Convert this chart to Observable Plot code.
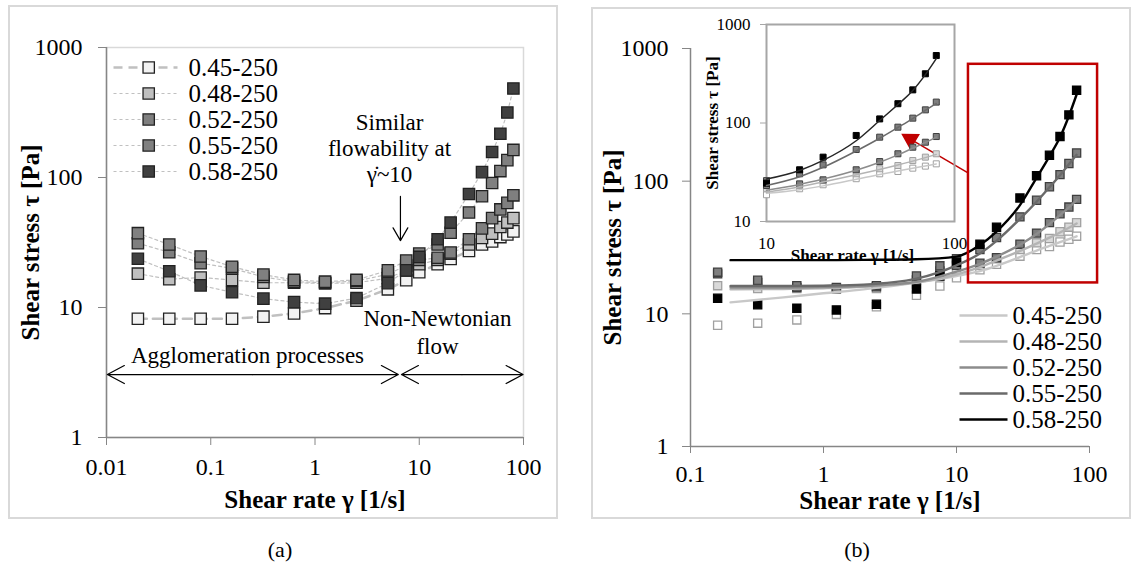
<!DOCTYPE html>
<html><head><meta charset="utf-8">
<script src="https://cdn.jsdelivr.net/npm/d3@7"></script>
<script src="https://cdn.jsdelivr.net/npm/@observablehq/plot@0.6"></script>
<style>
body{margin:0;background:#fff;}
#root{position:relative;width:1134px;height:565px;background:#fff;overflow:hidden;font-family:"Liberation Serif","Times New Roman",serif;}
.abs{position:absolute;}
.border{position:absolute;box-sizing:border-box;border:2px solid #d9d9d9;}
.cap{position:absolute;font-size:22px;color:#000;transform:translate(-50%,-50%);font-family:"Liberation Serif","Times New Roman",serif;}
</style></head><body><div id="root"></div>
<script>
// ---------------- data ----------------
const series = ["0.45-250","0.48-250","0.52-250","0.55-250","0.58-250"];
const shearRate = [0.02,0.04,0.08,0.16,0.32,0.63,1.25,2.5,5,7.5,10,15,20,30,40,50,60,70,80];
const stress045 = [8.2,8.2,8.2,8.2,8.5,9.0,9.9,11.3,13.8,16.2,18.7,21.5,23.6,27.2,30.5,32.2,34.8,36.5,38.5];
const stress048 = [18.2,16.5,17.0,16.3,15.5,15.5,15.3,15.5,16.8,19.3,21.5,23.2,26,30.5,34.3,37,41.6,45,48.7];
const stress052 = [31.2,26.6,21.9,20.0,17.2,15.8,15.5,16.0,18.0,21.0,23.2,24.1,26.5,33.5,40.6,48.7,56.8,63.8,72.9];
const stress055 = [37.3,30.5,24.7,20.6,17.9,16.3,15.8,16.3,19.3,23.0,26.0,30.5,37.6,53.8,71.8,90.7,112,136,163];
const stress058 = [23.7,19.0,14.8,13.1,11.7,11.0,10.7,11.8,15.4,19.3,24.5,33.5,45,74.7,110,157,217,316,484];
// fitted curves
const fitRate = [0.2,0.5,1,2,5,10,15,20,30,40,50,60,70,80];
const fit045 = [12.2,13.3,14.3,15.3,17.2,19.3,21,23,26.8,30,32.5,34.7,36.6,38.4];
const fit048 = [15.3,15.4,15.6,16,17.3,19.8,22.5,25.2,29.8,33.8,37.5,41,44.5,48];
const fit052 = [15.8,15.8,15.9,16.2,17.4,20.8,23.8,27,33.2,40,47.5,55.5,63.5,72];
const fit055 = [16.2,16.2,16.3,16.6,18.4,23.2,28.5,35.5,52,70,90,111,134,158];
const fit058 = [25.4,25.4,25.4,25.5,25.8,27,33,41.7,66,106,154,214,310,450];
// ticks
const yTicks = [1,10,100,1000];
const xTicksA = [0.01,0.1,1,10,100];
const xTicksB = [0.1,1,10,100];
const xTicksInset = [10,100];
const yTicksInset = [10,100,1000];

const stressAll = [stress045,stress048,stress052,stress055,stress058];
const fitAll = [fit045,fit048,fit052,fit055,fit058];
const points = series.flatMap((s,i)=>shearRate.map((x,j)=>({series:s,x,y:stressAll[i][j]})));
const fits = series.flatMap((s,i)=>fitRate.map((x,j)=>({series:s,x,y:fitAll[i][j]})));

// ---------------- styles ----------------
const FONT = '"Liberation Serif","Times New Roman",serif';
const AX = "#868686";
const fillA = ["#f2f2f2","#bfbfbf","#7f7f7f","#808080","#404040"];
const lineA = [{w:2.6,d:"9,6"},{w:1.2,d:"3,3"},{w:1.2,d:"3,3"},{w:1.2,d:"3,3"},{w:1.2,d:"3,3"}];
const fillB = ["#ffffff","#d9d9d9","#7f7f7f","#7f7f7f","#000000"];
const strokeB = ["#a0a0a0","#a0a0a0","#3f3f3f","#3f3f3f","#000000"];
const lineB = ["#c8c8c8","#b4b4b4","#8c8c8c","#6a6a6a","#000000"];
const fmt = d => String(d);

const root = document.getElementById("root");
function place(el, left, top){
  const d = document.createElement("div");
  d.className = "abs"; d.style.left = left+"px"; d.style.top = top+"px";
  d.style.width = el.getAttribute("width")+"px";
  d.appendChild(el); root.appendChild(d);
}
function box(l,t,r,b){
  const d = document.createElement("div"); d.className="border";
  d.style.left=l+"px"; d.style.top=t+"px"; d.style.width=(r-l)+"px"; d.style.height=(b-t)+"px";
  root.appendChild(d);
}
function cap(txt,x,y){
  const d = document.createElement("div"); d.className="cap"; d.textContent=txt;
  d.style.left=x+"px"; d.style.top=y+"px"; root.appendChild(d);
}
const bySeries = (arr,s) => arr.filter(d=>d.series===s);

box(8,5,558,519);
box(591,7,1131,519);

// ---------------- panel (a) ----------------
const marksA = [Plot.frame({stroke:"#d9d9d9", strokeWidth:1.5})];
series.forEach((s,i)=>{
  marksA.push(Plot.line(bySeries(points,s), {x:"x", y:"y", stroke:"#c0c0c0", strokeWidth:lineA[i].w, strokeDasharray:lineA[i].d}));
});
series.forEach((s,i)=>{
  marksA.push(Plot.dot(bySeries(points,s), {x:"x", y:"y", symbol:"square", r:6.4, fill:fillA[i], stroke:"#222", strokeWidth:1.3}));
});
marksA.push(
  Plot.ruleX([0.01], {stroke:AX, strokeWidth:1.5}),
  Plot.ruleY([1], {stroke:AX, strokeWidth:1.5}),
  Plot.axisY({ticks:yTicks, tickFormat:fmt, tickSize:8, tickPadding:16, stroke:AX, fill:"black", fontSize:24, label:null}),
  Plot.axisX({ticks:xTicksA, tickFormat:fmt, tickSize:8, tickPadding:12, stroke:AX, fill:"black", fontSize:24, label:null}),
  Plot.text(["Shear rate γ [1/s]"], {frameAnchor:"bottom", dy:62, lineAnchor:"middle", fontWeight:"bold", fontSize:25}),
  Plot.text(["Shear stress τ [Pa]"], {frameAnchor:"left", dx:-76, rotate:-90, textAnchor:"middle", lineAnchor:"middle", fontWeight:"bold", fontSize:25}),
  Plot.text(["Similar\nflowability at\nγ̇~10"], {x:5.19, y:170, lineAnchor:"middle", lineHeight:1.12, fontSize:23}),
  Plot.arrow([0], {x1:6.6, x2:6.6, y1:71.5, y2:32.7, stroke:"black", strokeWidth:1.2, headAngle:60, headLength:24}),
  Plot.text(["Non-Newtonian\nflow"], {x:14.96, y:6.55, lineAnchor:"middle", lineHeight:1.2, fontSize:23}),
  Plot.text(["Agglomeration processes"], {x:0.225, y:4.27, lineAnchor:"middle", fontSize:23}),
  Plot.arrow([0], {x1:0.25, x2:0.0102, y1:3.05, y2:3.05, stroke:"black", strokeWidth:1.2, headAngle:56, headLength:24}),
  Plot.arrow([0], {x1:0.25, x2:6.3, y1:3.05, y2:3.05, stroke:"black", strokeWidth:1.2, headAngle:56, headLength:24}),
  Plot.arrow([0], {x1:25.7, x2:6.75, y1:3.05, y2:3.05, stroke:"black", strokeWidth:1.2, headAngle:56, headLength:24}),
  Plot.arrow([0], {x1:25.7, x2:99, y1:3.05, y2:3.05, stroke:"black", strokeWidth:1.2, headAngle:56, headLength:24})
);
const plotA = Plot.plot({
  width:550, height:514, marginLeft:98, marginRight:35, marginTop:42, marginBottom:82,
  style:{fontFamily:FONT, background:"transparent", color:"black", overflow:"visible"},
  x:{type:"log", domain:[0.01,100]},
  y:{type:"log", domain:[1,1000]},
  marks:marksA
});
place(plotA, 8, 5);

// legend (a)
const legAMarks = [];
series.forEach((s,i)=>{
  legAMarks.push(
    Plot.link([s], {x1:0, x2:1, y1:d=>d, y2:d=>d, stroke:"#c0c0c0", strokeWidth:lineA[i].w, strokeDasharray:lineA[i].d}),
    Plot.dot([s], {x:0.55, y:d=>d, symbol:"square", r:6.4, fill:fillA[i], stroke:"#222", strokeWidth:1.3}),
    Plot.text([s], {x:1, y:d=>d, dx:11, textAnchor:"start", fontSize:25})
  );
});
const legA = Plot.plot({
  width:220, height:140, marginLeft:5, marginRight:151, marginTop:15, marginBottom:18,
  style:{fontFamily:FONT, background:"transparent", color:"black", overflow:"visible"},
  x:{domain:[0,1], axis:null},
  y:{type:"point", domain:series, padding:0, axis:null},
  marks:legAMarks
});
place(legA, 108, 50);

// ---------------- panel (b) ----------------
const ptsB = points.filter(d=>d.x>=0.16);
const marksB = [];
series.forEach((s,i)=>{
  marksB.push(Plot.dot(bySeries(ptsB,s), {x:"x", y:"y", symbol:"square", r:4.6, fill:fillB[i], stroke:strokeB[i], strokeWidth:1.3}));
});
series.forEach((s,i)=>{
  marksB.push(Plot.line(bySeries(fits,s), {x:"x", y:"y", stroke:lineB[i], strokeWidth:2.4, curve:"monotone-x"}));
});
marksB.push(
  Plot.ruleX([0.1], {stroke:AX, strokeWidth:1.5}),
  Plot.ruleY([1], {stroke:AX, strokeWidth:1.5}),
  Plot.axisY({ticks:yTicks, tickFormat:fmt, tickSize:8, tickPadding:14, stroke:AX, fill:"black", fontSize:24, label:null}),
  Plot.axisX({ticks:xTicksB, tickFormat:fmt, tickSize:7, tickPadding:11, stroke:AX, fill:"black", fontSize:24, label:null}),
  Plot.text(["Shear rate γ [1/s]"], {frameAnchor:"bottom", dy:54, lineAnchor:"middle", fontWeight:"bold", fontSize:25}),
  Plot.text(["Shear stress τ [Pa]"], {frameAnchor:"left", dx:-78, rotate:-90, textAnchor:"middle", lineAnchor:"middle", fontWeight:"bold", fontSize:25}),
  Plot.rect([0], {x1:12.3, x2:115, y1:17.1, y2:760, fill:"none", stroke:"#c00000", strokeWidth:2.5}),
  Plot.link([0], {x1:12.3, y1:115, x2:4.6, y2:205, stroke:"#c00000", strokeWidth:1.5}),
  Plot.dot([0], {x:4.51, y:207, symbol:"triangle", r:6, fill:"#c00000", stroke:"#c00000", rotate:-59})
);
const plotB = Plot.plot({
  width:540, height:512, marginLeft:99, marginRight:42, marginTop:41, marginBottom:73,
  style:{fontFamily:FONT, background:"transparent", color:"black", overflow:"visible"},
  x:{type:"log", domain:[0.1,100]},
  y:{type:"log", domain:[1,1000]},
  marks:marksB
});
place(plotB, 591, 7);

// inset
const ptsI = points.filter(d=>d.x>=10);
const fitsI = fits.filter(d=>d.x>=10);
const marksI = [Plot.frame({stroke:"#a6a6a6", strokeWidth:2})];
series.forEach((s,i)=>{
  marksI.push(Plot.dot(bySeries(ptsI,s), {x:"x", y:"y", symbol:"square", r:3.4, fill:fillB[i], stroke:strokeB[i], strokeWidth:1}));
});
series.forEach((s,i)=>{
  marksI.push(Plot.line(bySeries(fitsI,s), {x:"x", y:"y", stroke:i===4?"#262626":lineB[i], strokeWidth:1.5, curve:"monotone-x"}));
});
marksI.push(
  Plot.axisY({ticks:yTicksInset, tickFormat:fmt, tickSize:6, tickPadding:10, stroke:"#a6a6a6", fill:"black", fontSize:17, label:null}),
  Plot.axisX({ticks:xTicksInset, tickFormat:fmt, tickSize:0, tickPadding:15, stroke:"#a6a6a6", fill:"black", fontSize:17, label:null}),
  Plot.text(["Shear rate γ [1/s]"], {frameAnchor:"bottom", dy:34, dx:-8, lineAnchor:"middle", fontWeight:"bold", fontSize:17}),
  Plot.text(["Shear stress τ [Pa]"], {frameAnchor:"left", dx:-54, rotate:-90, textAnchor:"middle", lineAnchor:"middle", fontWeight:"bold", fontSize:17})
);
const plotI = Plot.plot({
  width:280, height:270, marginLeft:66, marginRight:26, marginTop:24, marginBottom:49,
  style:{fontFamily:FONT, background:"transparent", color:"black", overflow:"visible"},
  x:{type:"log", domain:[10,100]},
  y:{type:"log", domain:[10,1000]},
  marks:marksI
});
place(plotI, 700, 0);

// legend (b)
const legBMarks = [];
series.forEach((s,i)=>{
  legBMarks.push(
    Plot.link([s], {x1:0, x2:1, y1:d=>d, y2:d=>d, stroke:lineB[i], strokeWidth:2.6}),
    Plot.text([s], {x:1, y:d=>d, dx:5, textAnchor:"start", fontSize:25})
  );
});
const legB = Plot.plot({
  width:180, height:135, marginLeft:9, marginRight:123, marginTop:14, marginBottom:16,
  style:{fontFamily:FONT, background:"transparent", color:"black", overflow:"visible"},
  x:{domain:[0,1], axis:null},
  y:{type:"point", domain:series, padding:0, axis:null},
  marks:legBMarks
});
place(legB, 950, 300);

cap("(a)", 280, 550);
cap("(b)", 857, 550);
</script></body></html>
